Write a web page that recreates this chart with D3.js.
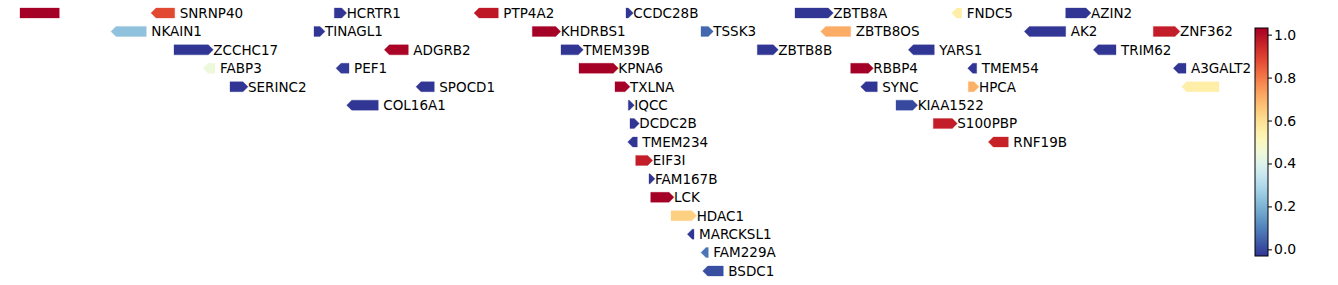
<!DOCTYPE html>
<html>
<head>
<meta charset="utf-8">
<script src="https://cdn.jsdelivr.net/npm/d3@7"></script>
<style>
  body { margin: 0; background: #fff; }
  svg { display: block; font-family: "DejaVu Sans", sans-serif; }
</style>
</head>
<body>
<svg id="chart" width="1338" height="285"></svg>
<script>
// Gene track data (positions in track units, row = stacking level)
const labels  = ['', 'SNRNP40', 'HCRTR1', 'PTP4A2', 'CCDC28B', 'ZBTB8A', 'FNDC5', 'AZIN2',
  'NKAIN1', 'TINAGL1', 'KHDRBS1', 'TSSK3', 'ZBTB8OS', 'AK2', 'ZNF362',
  'ZCCHC17', 'ADGRB2', 'TMEM39B', 'ZBTB8B', 'YARS1', 'TRIM62',
  'FABP3', 'PEF1', 'KPNA6', 'RBBP4', 'TMEM54', 'A3GALT2',
  'SERINC2', 'SPOCD1', 'TXLNA', 'SYNC', 'HPCA', '',
  'COL16A1', 'IQCC', 'KIAA1522',
  'DCDC2B', 'S100PBP',
  'TMEM234', 'RNF19B',
  'EIF3I', 'FAM167B', 'LCK', 'HDAC1', 'MARCKSL1', 'FAM229A', 'BSDC1'];
const starts  = [20, 151, 334.3, 474, 626, 795, 951.7, 1065.7,
  111, 314, 532.3, 701, 820.7, 1024.3, 1153.3,
  174, 384.3, 561, 757.3, 908.3, 1093.3,
  203, 336, 579, 850.7, 967.7, 1173.3,
  230, 416, 615, 860.7, 968.3, 1181.7,
  346.7, 628.3, 896,
  630, 933.3,
  627.7, 988.3,
  635.7, 649, 650.7, 671, 687.3, 701, 702.7];
const ends    = [59.3, 174.7, 346.7, 498.3, 633.3, 833.3, 961.7, 1091,
  146.3, 325, 560.7, 713.3, 850.7, 1065.7, 1180,
  213.3, 408.3, 583.3, 778.3, 934.3, 1116,
  215, 349, 618.3, 873.3, 976.7, 1186,
  248, 434.3, 630, 877.3, 979, 1219,
  378.3, 634.3, 917.7,
  639.3, 957.3,
  637.3, 1008.3,
  652.7, 655, 674, 696.7, 694, 708.3, 723.3];
const strands = [0, -1, 1, -1, 1, 1, -1, 1,
  -1, 1, 1, 1, -1, -1, 1,
  1, -1, 1, 1, -1, -1,
  -1, -1, 1, 1, -1, -1,
  1, -1, 1, -1, 1, -1,
  -1, 1, 1,
  1, 1,
  -1, -1,
  1, 1, 1, 1, -1, -1, -1];
const rows    = [0, 0, 0, 0, 0, 0, 0, 0,
  1, 1, 1, 1, 1, 1, 1,
  2, 2, 2, 2, 2, 2,
  3, 3, 3, 3, 3, 3,
  4, 4, 4, 4, 4, 4,
  5, 5, 5,
  6, 6,
  7, 7,
  8, 9, 10, 11, 12, 13, 14];
const scores  = [1.0, 0.86, 0.0, 0.95, 0.0, 0.0, 0.55, 0.0,
  0.25, 0.0, 1.0, 0.08, 0.7, 0.0, 0.94,
  0.0, 0.99, 0.0, 0.0, 0.0, 0.0,
  0.45, 0.01, 1.0, 1.0, 0.0, 0.0,
  0.0, 0.0, 1.0, 0.0, 0.69, 0.55,
  0.0, 0.0, 0.03,
  0.0, 0.94,
  0.0, 0.93,
  0.94, 0.0, 1.0, 0.63, 0.0, 0.1, 0.04];
const cbarTicks = [0.0, 0.2, 0.4, 0.6, 0.8, 1.0];

const genes = labels.map((name, i) => ({
  name, start: starts[i], end: ends[i], strand: strands[i], row: rows[i], score: scores[i]
}));

const svg = d3.select('#chart');
const x = d3.scaleLinear().domain([0, 1230]).range([0, 1230]);
const y = d3.scaleLinear().domain([0, 14]).range([13, 271]);
const color = v => d3.interpolateRdYlBu(1 - v);
const H = 10, HEAD = 5;

function arrowPath(d) {
  const x0 = x(d.start), x1 = x(d.end), cy = y(d.row);
  const t = cy - H / 2, b = cy + H / 2;
  const h = Math.min(HEAD, x1 - x0);
  if (d.strand > 0) {
    return `M${x0},${t}L${x1 - h},${t}L${x1},${cy}L${x1 - h},${b}L${x0},${b}Z`;
  } else if (d.strand < 0) {
    return `M${x1},${t}L${x0 + h},${t}L${x0},${cy}L${x0 + h},${b}L${x1},${b}Z`;
  }
  return `M${x0},${t}L${x1},${t}L${x1},${b}L${x0},${b}Z`;
}

const g = svg.append('g');
g.selectAll('path.gene')
  .data(genes)
  .join('path')
  .attr('class', 'gene')
  .attr('d', arrowPath)
  .attr('fill', d => color(d.score))
  .attr('stroke', d => color(d.score))
  .attr('stroke-opacity', 0.5)
  .attr('stroke-width', 0.6);

g.selectAll('text.lab')
  .data(genes.filter(d => d.name))
  .join('text')
  .attr('class', 'lab')
  .attr('x', d => x(d.end) + (d.strand > 0 ? 0 : 5))
  .attr('y', d => y(d.row))
  .attr('dy', '0.36em')
  .attr('font-size', 13.5)
  .attr('fill', '#000')
  .text(d => d.name);

// Colorbar
const cb = { x: 1255, w: 13, top: 28, bottom: 256 };
const cScale = d3.scaleLinear().domain([-0.031, 1.031]).range([cb.bottom, cb.top]);
const defs = svg.append('defs');
const grad = defs.append('linearGradient').attr('id', 'cbgrad')
  .attr('x1', 0).attr('y1', 1).attr('x2', 0).attr('y2', 0);
d3.range(0, 1.0001, 0.05).forEach(t => {
  grad.append('stop').attr('offset', t).attr('stop-color', color(t));
});
svg.append('rect')
  .attr('x', cb.x).attr('y', cb.top)
  .attr('width', cb.w).attr('height', cb.bottom - cb.top)
  .attr('fill', 'url(#cbgrad)')
  .attr('stroke', '#000').attr('stroke-width', 1);

const axis = d3.axisRight(cScale).tickValues(cbarTicks).tickFormat(d3.format('.1f')).tickSize(4).tickPadding(2);
const ag = svg.append('g').attr('transform', `translate(${cb.x + cb.w},0)`).call(axis);
ag.select('.domain').remove();
ag.selectAll('text').attr('font-size', 14).attr('font-family', '"DejaVu Sans", sans-serif').attr('fill', '#000');
ag.selectAll('line').attr('stroke', '#000');
</script>
</body>
</html>
